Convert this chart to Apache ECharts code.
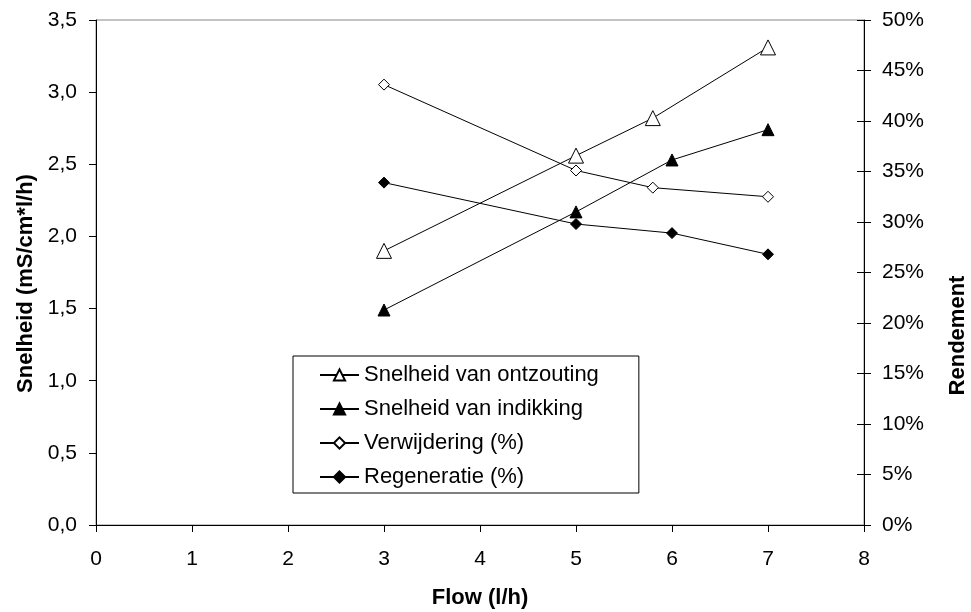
<!DOCTYPE html>
<html>
<head>
<meta charset="utf-8">
<script src="https://cdn.jsdelivr.net/npm/echarts@6/dist/echarts.min.js"></script>
<style>
html, body { margin: 0; padding: 0; background: #fff; }
#chart { width: 971px; height: 612px; }
</style>
</head>
<body>
<div id="chart"></div>
<script>
// flow (l/h) per meting
var flowOntzouting = [3, 5, 5.8, 7];
var flowIndikking = [3, 5, 6, 7];
// snelheden (mS/cm*l/h)
var ontzouting = [1.90, 2.56, 2.82, 3.31];
var indikking = [1.49, 2.17, 2.53, 2.74];
// rendement (%)
var verwijdering = [43.6, 35.1, 33.4, 32.5];
var regeneratie = [33.9, 29.8, 28.9, 26.8];

var seriesNames = [
    "Snelheid van ontzouting",
    "Snelheid van indikking",
    "Verwijdering (%)",
    "Regeneratie (%)"
];

function pairs(xs, ys) {
    return xs.map(function (x, i) { return [x, ys[i]]; });
}

var font = "'Liberation Sans', Arial, sans-serif";
var myChart = echarts.init(document.getElementById("chart"));

function lineSeries(name, xs, ys, symbol, size, filled, axis) {
    return {
        name: name,
        type: "line",
        yAxisIndex: axis,
        data: pairs(xs, ys),
        symbol: symbol,
        symbolSize: size,
        showAllSymbol: true,
        lineStyle: { color: "#000", width: 1 },
        itemStyle: {
            color: filled ? "#000" : "#fff",
            borderColor: "#000",
            borderWidth: 1
        },
        emphasis: { disabled: true },
        z: 3
    };
}

var tickLabel = { fontFamily: font, fontSize: 21, color: "#000" };
var axisName = { fontFamily: font, fontSize: 22, fontWeight: "bold", color: "#000" };

myChart.setOption({
    animation: false,
    grid: {
        left: 96,
        right: 107,
        top: 20,
        bottom: 87,
        outerBoundsMode: "none",
        containLabel: false,
        show: true,
        borderColor: "#888",
        borderWidth: 1
    },
    legend: {
        orient: "vertical",
        left: 293,
        top: 356,
        data: seriesNames,
        itemWidth: 39,
        itemHeight: 14,
        itemGap: 12,
        padding: [8, 40, 5, 26],
        borderColor: "#000",
        borderWidth: 1,
        backgroundColor: "#fff",
        textStyle: { fontFamily: font, fontSize: 22, lineHeight: 22, color: "#000" }
    },
    xAxis: {
        type: "value",
        min: 0,
        max: 8,
        interval: 1,
        name: "Flow (l/h)",
        nameLocation: "middle",
        nameGap: 62,
        nameTextStyle: axisName,
        axisLine: { onZero: false, lineStyle: { color: "#000", width: 1 } },
        axisTick: { show: true, length: 7, lineStyle: { color: "#000" } },
        axisLabel: Object.assign({ margin: 24 }, tickLabel),
        splitLine: { show: false }
    },
    yAxis: [
        {
            type: "value",
            min: 0,
            max: 3.5,
            interval: 0.5,
            position: "left",
            name: "Snelheid (mS/cm*l/h)",
            nameLocation: "middle",
            nameRotate: 90,
            nameGap: 58,
            nameTextStyle: Object.assign({ padding: [0, 22, 0, 0] }, axisName),
            axisLine: { show: true, lineStyle: { color: "#000", width: 1 } },
            axisTick: { show: true, length: 7, lineStyle: { color: "#000" } },
            axisLabel: Object.assign({
                margin: 19,
                formatter: function (v) { return v.toFixed(1).replace(".", ","); }
            }, tickLabel),
            splitLine: { show: false }
        },
        {
            type: "value",
            min: 0,
            max: 50,
            interval: 5,
            position: "right",
            name: "Rendement",
            nameLocation: "middle",
            nameRotate: 90,
            nameGap: 83,
            nameTextStyle: Object.assign({ padding: [0, 126, 0, 0] }, axisName),
            axisLine: { show: true, lineStyle: { color: "#000", width: 1 } },
            axisTick: { show: true, length: 7, lineStyle: { color: "#000" } },
            axisLabel: Object.assign({ margin: 18, formatter: "{value}%" }, tickLabel),
            splitLine: { show: false }
        },
        {
            // inward half of the crossing ticks on the right axis
            type: "value",
            min: 0,
            max: 50,
            interval: 5,
            position: "right",
            axisLine: { show: false },
            axisTick: { show: true, inside: true, length: 7, lineStyle: { color: "#000" } },
            axisLabel: { show: false },
            splitLine: { show: false }
        }
    ],
    series: [
        lineSeries(seriesNames[0], flowOntzouting, ontzouting, "triangle", 15, false, 0),
        lineSeries(seriesNames[1], flowIndikking, indikking, "triangle", 12, true, 0),
        lineSeries(seriesNames[2], flowOntzouting, verwijdering, "diamond", 11, false, 1),
        lineSeries(seriesNames[3], flowIndikking, regeneratie, "diamond", 11, true, 1)
    ]
});
</script>
</body>
</html>
